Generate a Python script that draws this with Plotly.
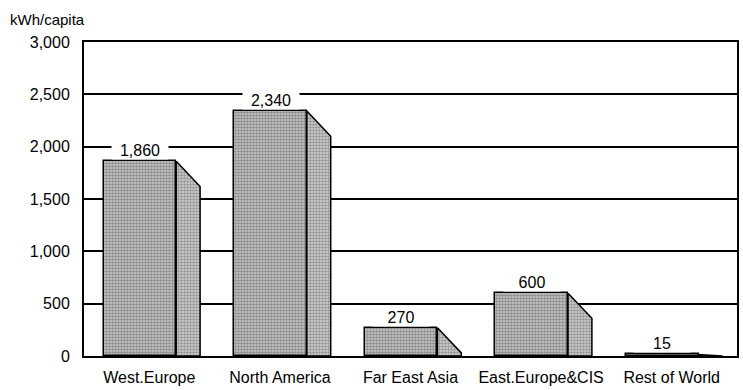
import plotly.graph_objects as go

categories = ["West.Europe", "North America", "Far East Asia", "East.Europe&CIS", "Rest of World"]
values = [1860, 2340, 270, 600, 15]
y_ticks = [0, 500, 1000, 1500, 2000, 2500, 3000]
y_title = "kWh/capita"

FONT = "Liberation Sans Narrow, Arial Narrow, Liberation Sans, sans-serif"
FS = 16
front_off = -0.35
front_w = 0.556
side_w = 0.183
drop = 240

idx = list(range(len(categories)))

fig = go.Figure()
fig.add_trace(go.Bar(
    x=idx, y=values, width=front_w, offset=front_off,
    marker=dict(color="#c8c8c8",
                pattern=dict(shape=".", fgcolor="#4a4a4a", bgcolor="#cdcdcd", size=3, solidity=0.6),
                line=dict(color="black", width=1.5)),
    showlegend=False, hoverinfo="skip"))

for i, v in zip(idx, values):
    xl = i + front_off + front_w
    xr = xl + side_w
    fig.add_trace(go.Scatter(
        x=[xl, xl, xr, xr, xl], y=[0, v, max(v - drop, 0), 0, 0],
        mode="lines", fill="toself", fillcolor="#d2d2d2",
        fillpattern=dict(shape=".", fgcolor="#555555", bgcolor="#d4d4d4", size=3, solidity=0.55),
        line=dict(color="black", width=1.5), showlegend=False, hoverinfo="skip"))

for i, v in zip(idx, values):
    fig.add_annotation(
        x=i + front_off + front_w / 2, y=v, text=f"{v:,}", showarrow=False,
        yanchor="bottom", yshift=1, bgcolor="white", width=56, borderpad=0,
        font=dict(family=FONT, size=FS, color="black"))

fig.add_annotation(
    xref="paper", yref="paper", x=-76 / 655, y=1, xanchor="left", yanchor="bottom",
    yshift=12, text=y_title, showarrow=False,
    font=dict(family=FONT, size=FS - 1, color="black"))

fig.update_layout(
    width=743, height=390,
    margin=dict(l=84, r=4, t=42, b=32),
    paper_bgcolor="white", plot_bgcolor="white",
    font=dict(family=FONT, size=FS, color="black"),
    bargap=0,
    xaxis=dict(range=[-0.5, 4.5], tickvals=idx, ticktext=categories,
               showgrid=False, zeroline=False, showline=True, linecolor="black",
               linewidth=2, mirror=True, ticks="", ticklabelstandoff=6, fixedrange=True),
    yaxis=dict(range=[0, 3000], tickvals=y_ticks, tickformat=",",
               showgrid=True, gridcolor="black", gridwidth=1.5, zeroline=False,
               showline=True, linecolor="black", linewidth=2, mirror=True,
               ticks="", ticklabelstandoff=9, fixedrange=True),
)

fig.write_html("out.html")
